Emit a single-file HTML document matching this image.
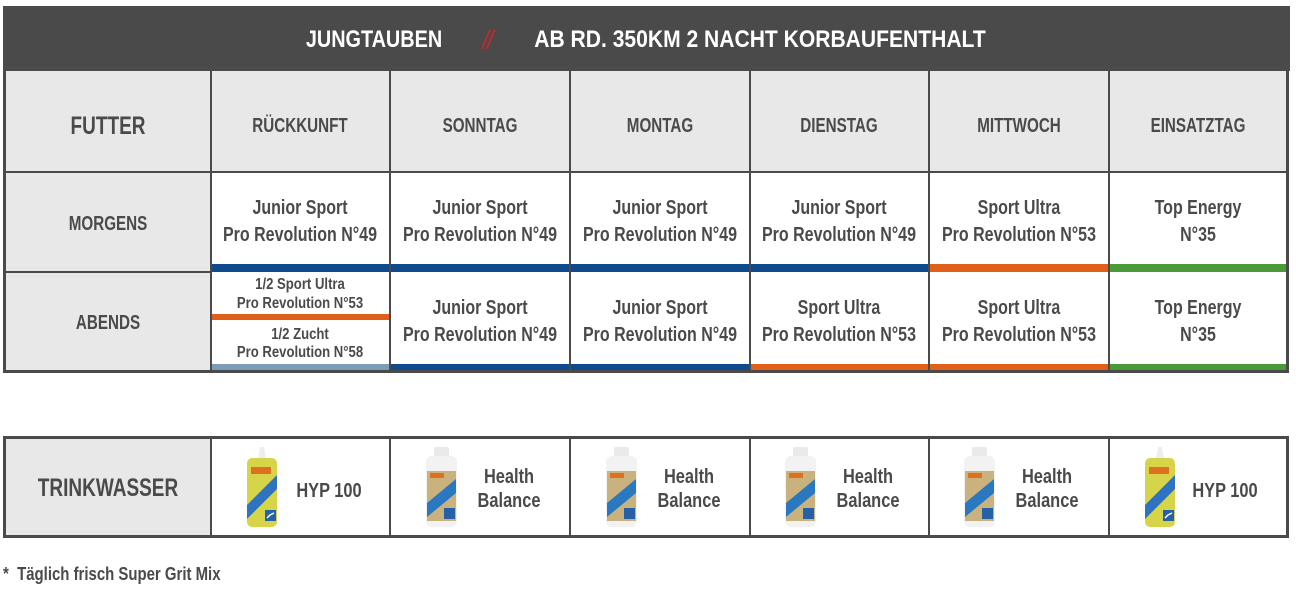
<!DOCTYPE html>
<html><head><meta charset="utf-8">
<style>
body{margin:0;width:1296px;height:592px;position:relative;background:#fff;font-family:"Liberation Sans",sans-serif;overflow:hidden}
.a{position:absolute}
.l{position:absolute;background:#4a4a4a}
.t{position:absolute;white-space:nowrap;line-height:1;font-weight:bold;color:#4a4a4a;transform-origin:0 50%}
.c{transform:scaleX(.76) translateX(-50%)}
.b{font-size:20px;transform:scaleX(.8) translateX(-50%)}
.s{font-size:16px;transform:scaleX(.82) translateX(-50%)}
.w{font-size:20.5px;transform:scaleX(.8) translateX(-50%)}
</style></head><body>

<!-- title band -->
<div class="a" style="left:3px;top:6px;width:1287px;height:65px;background:#4a4a4a"></div>
<div class="t" style="left:374px;top:28px;font-size:24.5px;color:#fff;transform:scaleX(.81) translateX(-50%)">JUNGTAUBEN</div>
<div class="t" style="left:487px;top:27px;font-size:26px;color:#c8282d;font-weight:normal;font-style:italic;letter-spacing:-2px;transform:scaleX(.9) translateX(-50%)">//</div>
<div class="t" style="left:760px;top:28px;font-size:24.5px;color:#fff;transform:scaleX(.86) translateX(-50%)">AB RD. 350KM 2 NACHT KORBAUFENTHALT</div>

<!-- gray areas -->
<div class="a" style="left:3px;top:71px;width:1285px;height:101px;background:#e8e8e8"></div>
<div class="a" style="left:3px;top:172px;width:208px;height:200px;background:#e8e8e8"></div>
<div class="a" style="left:3px;top:437px;width:208px;height:100px;background:#e8e8e8"></div>

<!-- morgens bars -->
<div class="a" style="left:211px;top:264px;width:719px;height:8px;background:#0f4a8c"></div>
<div class="a" style="left:929px;top:264px;width:180px;height:8px;background:#e0601a"></div>
<div class="a" style="left:1109px;top:264px;width:178px;height:8px;background:#4b9a3a"></div>
<!-- abends bars -->
<div class="a" style="left:211px;top:314px;width:179px;height:6px;background:#e0601a"></div>
<div class="a" style="left:211px;top:364px;width:179px;height:7px;background:#7b9db5"></div>
<div class="a" style="left:390px;top:364px;width:360px;height:7px;background:#0f4a8c"></div>
<div class="a" style="left:750px;top:364px;width:359px;height:7px;background:#e0601a"></div>
<div class="a" style="left:1109px;top:364px;width:178px;height:7px;background:#4b9a3a"></div>

<!-- table 1 lines -->
<div class="l" style="left:3px;top:70px;width:3px;height:303px"></div>
<div class="l" style="left:1286px;top:70px;width:3px;height:303px"></div>
<div class="l" style="left:3px;top:70px;width:1286px;height:1px"></div>
<div class="l" style="left:3px;top:171px;width:1286px;height:2px"></div>
<div class="l" style="left:3px;top:271px;width:208px;height:2px"></div>
<div class="l" style="left:3px;top:370px;width:1286px;height:3px"></div>
<div class="l" style="left:210px;top:70px;width:2px;height:303px"></div>
<div class="l" style="left:389px;top:70px;width:2px;height:303px"></div>
<div class="l" style="left:569px;top:70px;width:2px;height:303px"></div>
<div class="l" style="left:749px;top:70px;width:2px;height:303px"></div>
<div class="l" style="left:928px;top:70px;width:2px;height:303px"></div>
<div class="l" style="left:1108px;top:70px;width:2px;height:303px"></div>

<!-- header labels -->
<div class="t c" style="left:108px;top:114px;font-size:25px">FUTTER</div>
<div class="t c" style="left:300px;top:116px;font-size:20px">RÜCKKUNFT</div>
<div class="t c" style="left:480px;top:116px;font-size:20px">SONNTAG</div>
<div class="t c" style="left:660px;top:116px;font-size:20px">MONTAG</div>
<div class="t c" style="left:839px;top:116px;font-size:20px">DIENSTAG</div>
<div class="t c" style="left:1019px;top:116px;font-size:20px">MITTWOCH</div>
<div class="t c" style="left:1198px;top:116px;font-size:20px">EINSATZTAG</div>
<div class="t c" style="left:108px;top:214px;font-size:20px">MORGENS</div>
<div class="t c" style="left:108px;top:313px;font-size:20px">ABENDS</div>

<!-- morgens -->
<div class="t b" style="left:300px;top:198px">Junior Sport</div>
<div class="t b" style="left:300px;top:225px">Pro Revolution N°49</div>
<div class="t b" style="left:480px;top:198px">Junior Sport</div>
<div class="t b" style="left:480px;top:225px">Pro Revolution N°49</div>
<div class="t b" style="left:660px;top:198px">Junior Sport</div>
<div class="t b" style="left:660px;top:225px">Pro Revolution N°49</div>
<div class="t b" style="left:839px;top:198px">Junior Sport</div>
<div class="t b" style="left:839px;top:225px">Pro Revolution N°49</div>
<div class="t b" style="left:1019px;top:198px">Sport Ultra</div>
<div class="t b" style="left:1019px;top:225px">Pro Revolution N°53</div>
<div class="t b" style="left:1198px;top:198px">Top Energy</div>
<div class="t b" style="left:1198px;top:225px">N°35</div>

<!-- abends -->
<div class="t s" style="left:300px;top:277px">1/2 Sport Ultra</div>
<div class="t s" style="left:300px;top:296px">Pro Revolution N°53</div>
<div class="t s" style="left:300px;top:327px">1/2 Zucht</div>
<div class="t s" style="left:300px;top:345px">Pro Revolution N°58</div>
<div class="t b" style="left:480px;top:298px">Junior Sport</div>
<div class="t b" style="left:480px;top:325px">Pro Revolution N°49</div>
<div class="t b" style="left:660px;top:298px">Junior Sport</div>
<div class="t b" style="left:660px;top:325px">Pro Revolution N°49</div>
<div class="t b" style="left:839px;top:298px">Sport Ultra</div>
<div class="t b" style="left:839px;top:325px">Pro Revolution N°53</div>
<div class="t b" style="left:1019px;top:298px">Sport Ultra</div>
<div class="t b" style="left:1019px;top:325px">Pro Revolution N°53</div>
<div class="t b" style="left:1198px;top:298px">Top Energy</div>
<div class="t b" style="left:1198px;top:325px">N°35</div>

<!-- table 2 lines -->
<div class="l" style="left:3px;top:436px;width:1286px;height:3px"></div>
<div class="l" style="left:3px;top:535px;width:1286px;height:3px"></div>
<div class="l" style="left:3px;top:436px;width:3px;height:102px"></div>
<div class="l" style="left:1286px;top:436px;width:3px;height:102px"></div>
<div class="l" style="left:210px;top:436px;width:2px;height:102px"></div>
<div class="l" style="left:389px;top:436px;width:2px;height:102px"></div>
<div class="l" style="left:569px;top:436px;width:2px;height:102px"></div>
<div class="l" style="left:749px;top:436px;width:2px;height:102px"></div>
<div class="l" style="left:928px;top:436px;width:2px;height:102px"></div>
<div class="l" style="left:1108px;top:436px;width:2px;height:102px"></div>

<div class="t c" style="left:108px;top:476px;font-size:25px">TRINKWASSER</div>

<!-- bottles -->
<svg class="a" style="left:245px;top:447px" width="34" height="81" viewBox="0 0 34 81">
<polygon points="15,0 19,0 21,12 13,12" fill="#eeeeee"/>
<rect x="2" y="11" width="30" height="69" rx="5" fill="#d6d54a"/>
<rect x="6" y="20" width="20" height="7" fill="#e07020"/>
<polygon points="2,58 32,28 32,42 2,72" fill="#2f73c0"/>
<rect x="20" y="63" width="11" height="11" fill="#2560a8"/>
<path d="M22,71 L25,68 L29,66" stroke="#fff" stroke-width="1.5" fill="none"/>
</svg>
<svg class="a" style="left:1143px;top:447px" width="34" height="81" viewBox="0 0 34 81">
<polygon points="15,0 19,0 21,12 13,12" fill="#eeeeee"/>
<rect x="2" y="11" width="30" height="69" rx="5" fill="#d6d54a"/>
<rect x="6" y="20" width="20" height="7" fill="#e07020"/>
<polygon points="2,58 32,28 32,42 2,72" fill="#2f73c0"/>
<rect x="20" y="63" width="11" height="11" fill="#2560a8"/>
<path d="M22,71 L25,68 L29,66" stroke="#fff" stroke-width="1.5" fill="none"/>
</svg>
<svg class="a" style="left:425px;top:447px" width="33" height="81" viewBox="0 0 33 81">
<rect x="9" y="0" width="15" height="10" rx="2" fill="#eaeaea"/>
<rect x="1" y="9" width="31" height="71" rx="6" fill="#f2f2f2"/>
<rect x="2" y="24" width="29" height="50" fill="#c9b27e"/>
<rect x="5" y="26" width="14" height="5" fill="#e07020"/>
<polygon points="2,56 31,32 31,46 2,70" fill="#2a78c0"/>
<rect x="19" y="61" width="11" height="11" fill="#2560a8"/>
</svg>
<svg class="a" style="left:605px;top:447px" width="33" height="81" viewBox="0 0 33 81">
<rect x="9" y="0" width="15" height="10" rx="2" fill="#eaeaea"/>
<rect x="1" y="9" width="31" height="71" rx="6" fill="#f2f2f2"/>
<rect x="2" y="24" width="29" height="50" fill="#c9b27e"/>
<rect x="5" y="26" width="14" height="5" fill="#e07020"/>
<polygon points="2,56 31,32 31,46 2,70" fill="#2a78c0"/>
<rect x="19" y="61" width="11" height="11" fill="#2560a8"/>
</svg>
<svg class="a" style="left:784px;top:447px" width="33" height="81" viewBox="0 0 33 81">
<rect x="9" y="0" width="15" height="10" rx="2" fill="#eaeaea"/>
<rect x="1" y="9" width="31" height="71" rx="6" fill="#f2f2f2"/>
<rect x="2" y="24" width="29" height="50" fill="#c9b27e"/>
<rect x="5" y="26" width="14" height="5" fill="#e07020"/>
<polygon points="2,56 31,32 31,46 2,70" fill="#2a78c0"/>
<rect x="19" y="61" width="11" height="11" fill="#2560a8"/>
</svg>
<svg class="a" style="left:963px;top:447px" width="33" height="81" viewBox="0 0 33 81">
<rect x="9" y="0" width="15" height="10" rx="2" fill="#eaeaea"/>
<rect x="1" y="9" width="31" height="71" rx="6" fill="#f2f2f2"/>
<rect x="2" y="24" width="29" height="50" fill="#c9b27e"/>
<rect x="5" y="26" width="14" height="5" fill="#e07020"/>
<polygon points="2,56 31,32 31,46 2,70" fill="#2a78c0"/>
<rect x="19" y="61" width="11" height="11" fill="#2560a8"/>
</svg>

<div class="t w" style="left:329px;top:481px">HYP 100</div>
<div class="t w" style="left:509px;top:467px">Health</div>
<div class="t w" style="left:509px;top:491px">Balance</div>
<div class="t w" style="left:689px;top:467px">Health</div>
<div class="t w" style="left:689px;top:491px">Balance</div>
<div class="t w" style="left:868px;top:467px">Health</div>
<div class="t w" style="left:868px;top:491px">Balance</div>
<div class="t w" style="left:1047px;top:467px">Health</div>
<div class="t w" style="left:1047px;top:491px">Balance</div>
<div class="t w" style="left:1225px;top:481px">HYP 100</div>

<!-- footnote -->
<div class="t" style="left:3px;top:565px;font-size:18px;transform:scaleX(.83)">*&nbsp; Täglich frisch Super Grit Mix</div>

</body></html>
